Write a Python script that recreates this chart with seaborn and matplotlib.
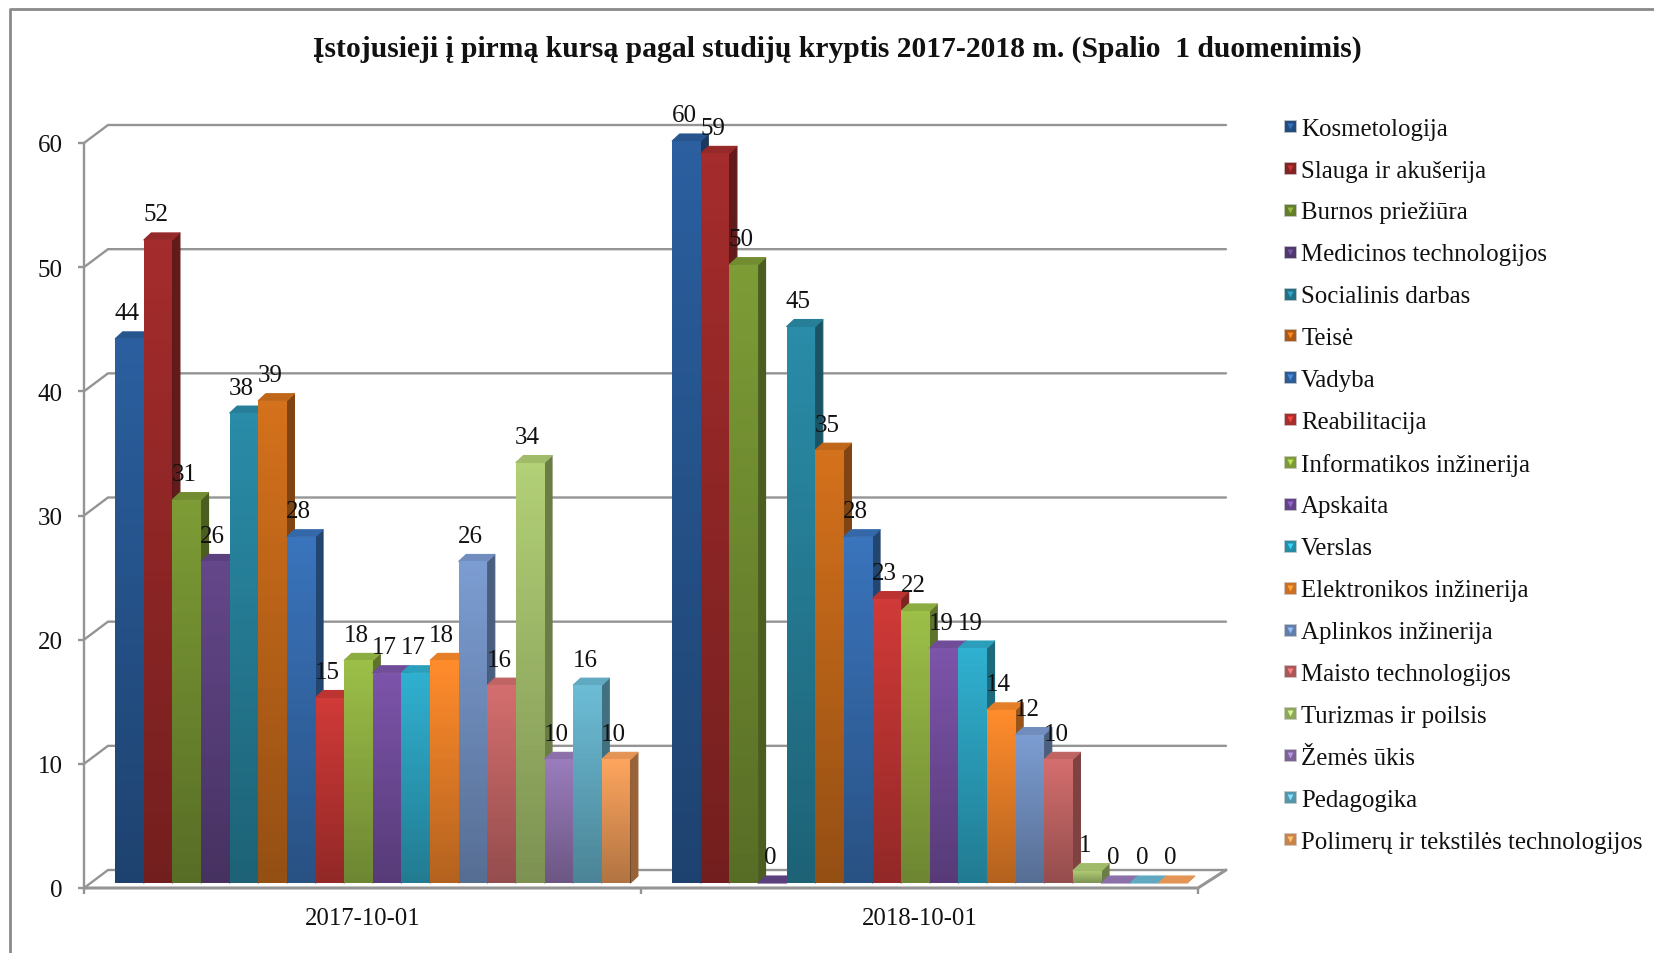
import numpy as np
import pandas as pd
import matplotlib
matplotlib.use('Agg')
import matplotlib.pyplot as plt
from matplotlib.patches import Polygon
from matplotlib.lines import Line2D
from matplotlib.legend_handler import HandlerTuple
from matplotlib.colors import to_rgb
import seaborn as sns

dates = ['2017-10-01', '2018-10-01']
directions = ['Kosmetologija', 'Slauga ir akušerija', 'Burnos priežiūra', 'Medicinos technologijos',
              'Socialinis darbas', 'Teisė', 'Vadyba', 'Reabilitacija', 'Informatikos inžinerija',
              'Apskaita', 'Verslas', 'Elektronikos inžinerija', 'Aplinkos inžinerija',
              'Maisto technologijos', 'Turizmas ir poilsis', 'Žemės ūkis', 'Pedagogika',
              'Polimerų ir tekstilės technologijos']
values_2017 = [44, 52, 31, 26, 38, 39, 28, 15, 18, 17, 17, 18, 26, 16, 34, 10, 16, 10]
values_2018 = [60, 59, 50, 0, 45, 35, 28, 23, 22, 19, 19, 14, 12, 10, 1, 0, 0, 0]
colors = ['#2b5f9f', '#a52c2c', '#7d9c36', '#64478a', '#2a8ca8', '#d4711c',
          '#3a74bc', '#d03a38', '#9cbf48', '#7c54aa', '#30b0d0', '#ff8c2c',
          '#7c9dd2', '#d46e6e', '#b2d076', '#9a7cbc', '#6cbcd6', '#fda55e']
y_ticks = [0, 10, 20, 30, 40, 50, 60]
title = 'Įstojusieji į pirmą kursą pagal studijų kryptis 2017-2018 m. (Spalio  1 duomenimis)'

W, H = 1654, 954
GRAY = '#949494'

sns.set_style('white')
plt.rcParams['font.family'] = ['Liberation Serif', 'DejaVu Serif']

df = pd.DataFrame({
    'date': np.repeat(dates, len(directions)),
    'direction': directions * 2,
    'value': values_2017 + values_2018,
})

fig = plt.figure(figsize=(W / 100, H / 100), dpi=100)

# front plane of the fake 3D box, in pixels
ax = fig.add_axes([84 / W, (H - 889) / H, 1114 / W, 745 / H])
# bars sit a little further back in the box
ax_bars = fig.add_axes([94.3 / W, (H - 884) / H, 1114 / W, 742 / H], zorder=2)
ax_bars.patch.set_alpha(0)

sns.barplot(data=df, x='date', y='value', hue='direction', hue_order=directions, order=dates,
            palette=colors, width=0.925, gap=0, saturation=1, ax=ax_bars, errorbar=None,
            linewidth=0, legend=False)

px_x = 1114 / 2
px_y = 745 / 60
px_y_bars = 742 / 60
back_left, back_right, back_y = 24 / px_x, 28 / px_x, 18 / px_y
side_x, side_y = 7.5 / px_x, 7 / px_y_bars

# axis box
for a in (ax, ax_bars):
    a.set_xlim(-0.5, 1.5)
    a.set_ylim(0, 60)
    sns.despine(ax=a, left=True, bottom=True, right=True, top=True)
ax_bars.axis('off')

for t in y_ticks:
    ax.plot([-0.5, -0.5 + back_left, 1.5 + back_right], [t, t + back_y, t + back_y],
            color=GRAY, lw=1.7, clip_on=False, zorder=1, solid_joinstyle='miter')
ax.plot([-0.5, -0.5], [0, 60], color=GRAY, lw=1.7, clip_on=False, zorder=1)
ax.plot([-0.5, 1.5, 1.5 + back_right], [0, 0, back_y], color=GRAY, lw=2.2, clip_on=False, zorder=1,
        solid_joinstyle='miter')

ax.set_yticks(y_ticks)
ax.set_xticks([-0.5, 0.5, 1.5], labels=['', '', ''])
ax.set_xticks([0, 1], labels=dates, minor=True)
ax.tick_params(axis='y', which='major', left=True, length=4.5, width=1.7, color=GRAY,
               labelsize=18, labelcolor='#111111', pad=11)
ax.tick_params(axis='x', which='major', bottom=True, length=4.5, width=1.7, color=GRAY)
ax.tick_params(axis='x', which='minor', bottom=False, labelsize=17.8, labelcolor='#111111', pad=12)
ax.set_xlabel('')
ax.set_ylabel('')

# 3D faces and shading built from the bars seaborn drew
shade = np.zeros((64, 2, 4))
shade[:, :, 3] = np.linspace(0, 0.30, 64)[:, None]
bars = [p for c in ax_bars.containers for p in c]
bars.sort(key=lambda p: p.get_x())
for i, p in enumerate(bars):
    x0, w, h = p.get_x(), p.get_width(), p.get_height()
    col = np.array(p.get_facecolor()[:3])
    z = 3 + i * 0.01
    x1 = x0 + w
    p.set_zorder(z + 0.002)
    if h > 0:
        ax_bars.add_patch(Polygon([(x1, 0), (x1 + side_x, side_y), (x1 + side_x, h + side_y), (x1, h)],
                                  closed=True, fc=col * 0.6, ec=col * 0.6, lw=0.8, joinstyle='round',
                                  zorder=z, clip_on=False))
    ax_bars.add_patch(Polygon([(x0, h), (x0 + side_x, h + side_y), (x1 + side_x, h + side_y), (x1, h)],
                              closed=True, fc=col * 0.9, ec=col * 0.9, lw=0.8, joinstyle='round',
                              zorder=z + 0.001, clip_on=False))
    if h > 0:
        ax_bars.imshow(shade, extent=(x0, x1, 0, h), aspect='auto', origin='upper',
                       zorder=z + 0.003, clip_on=False)
    ax_bars.text(x0 + w / 2 - 2.5 / px_x, h + 25.5 / px_y_bars, f'{h:.0f}', ha='center', va='center',
                 fontsize=18, color='#111111', zorder=10, clip_on=False)
ax_bars.set_xlim(-0.5, 1.5)
ax_bars.set_ylim(0, 60)

# legend, squares with the small lighter wedge on top
handles = []
for c in colors:
    rgb = np.array(to_rgb(c))
    square = Line2D([], [], marker='s', ls='none', ms=9, mfc=rgb * 0.8, mec='#c8c8c8', mew=0.5)
    wedge = Line2D([], [], marker='v', ls='none', ms=5, mfc=np.minimum(rgb * 1.2, 1), mec='none')
    handles.append((square, wedge))
fig.legend(handles, directions, loc='upper left', bbox_to_anchor=(1280 / W, 1 - 118.2 / H),
           frameon=False, fontsize=17.9, labelspacing=0.785, handlelength=0.8, handletextpad=0.05,
           borderpad=0, borderaxespad=0, labelcolor='#111111',
           handler_map={tuple: HandlerTuple(ndivide=1, pad=0)})

fig.text(837 / W, 1 - 49 / H, title, ha='center', va='center', fontsize=21.3, fontweight='bold', color='#111111')

# outer chart border
fig.add_artist(Line2D([9.5 / W, 9.5 / W, 1], [0, 1 - 10 / H, 1 - 10 / H], color='#8a8a8a', lw=2))

fig.savefig('out.png', dpi=100)
